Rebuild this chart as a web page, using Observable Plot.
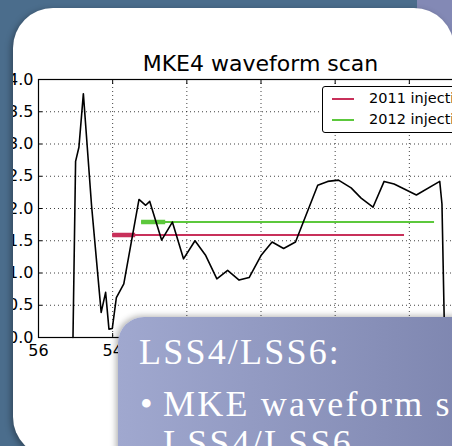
<!DOCTYPE html>
<html><head><meta charset="utf-8">
<script src="https://cdn.jsdelivr.net/npm/d3@7"></script>
<script src="https://cdn.jsdelivr.net/npm/@observablehq/plot@0.6"></script>
<style>
html,body{margin:0;padding:0;width:452px;height:446px;overflow:hidden;background:#4b6d8c;position:relative;}
#purple{position:absolute;left:417px;top:0;width:60px;height:80px;background:#8389b5;}
#panel{position:absolute;left:13px;top:8px;width:441px;height:449px;background:#fff;border-radius:40px;overflow:hidden;box-shadow:-2px 2px 6px rgba(0,0,0,.35);}
#content{position:absolute;left:-13px;top:-8px;width:520px;height:470px;}
#chart{position:absolute;left:0;top:0;}
#title{position:absolute;left:0;width:521px;top:53px;text-align:center;font:22px/22px "DejaVu Sans";color:#000;}
#legend{position:absolute;left:322px;top:86px;width:200px;height:45px;border:1px solid #000;border-radius:3px;background:#fff;font:14.5px/15px "DejaVu Sans";color:#000;}
.row{position:absolute;left:0;height:16px;}
.sw{position:absolute;left:9px;width:22px;height:2px;}
.lt{position:absolute;left:46px;top:0;white-space:nowrap;}
#box{position:absolute;left:118px;top:317px;width:400px;height:200px;border-radius:26px 0 0 0;background:linear-gradient(90deg,#a0a8cf,#7981ab);box-shadow:-2px -1px 6px rgba(0,0,0,.3);color:#fff;font-family:"Liberation Serif";font-size:36px;line-height:36px;letter-spacing:2.2px;}
.ln{position:absolute;white-space:nowrap;}
</style></head>
<body>
<div id="purple"></div>
<div id="panel"><div id="content">
  <div id="chart"></div>
  <div id="title"></div>
  <div id="legend"></div>
</div></div>
<div id="box"></div>
<script>
const chartTitle = "MKE4 waveform scan";
const xTicks = [56, 54, 52, 50, 48, 46, 44];
const yTicks = [0, 0.5, 1.0, 1.5, 2.0, 2.5, 3.0, 3.5, 4.0];
const scanX = [55.07, 55.0, 54.91, 54.79, 54.57, 54.31, 54.19, 54.10, 54.01, 53.90, 53.70, 53.29, 53.11, 53.0, 52.68, 52.39, 52.09, 51.78, 51.49, 51.19, 50.90, 50.59, 50.32, 50.0, 49.70, 49.39, 49.07, 48.47, 48.20, 47.91, 47.57, 47.30, 46.98, 46.68, 46.41, 45.81, 45.18, 45.12, 45.05];
const scanY = [0, 2.73, 2.95, 3.78, 2.05, 0.39, 0.70, 0.13, 0.14, 0.62, 0.83, 2.14, 2.05, 2.11, 1.51, 1.79, 1.22, 1.50, 1.27, 0.91, 1.04, 0.89, 0.93, 1.27, 1.48, 1.38, 1.48, 2.36, 2.42, 2.44, 2.32, 2.16, 2.02, 2.42, 2.38, 2.21, 2.42, 2.07, 0];
const injLabels = ["2011 injection", "2012 injection"];
const injLevel = [1.59, 1.79];
const injStart = [54.0, 53.22];
const injEnd = [46.13, 45.32];
const injThickEnd = [53.38, 52.57];
const injColors = ["#c8305a", "#5cc83c"];
const boxLines = ["LSS4/LSS6:", "MKE waveform scan", "LSS4/LSS6"];

const scan = scanX.map((x, i) => ({x, y: scanY[i]}));
const inj = injLabels.map((label, i) => ({label, y: injLevel[i], x1: injStart[i], x2: injEnd[i], xt: injThickEnd[i], color: injColors[i]}));

const grid = {stroke: "#000", strokeOpacity: 0.75, strokeDasharray: "1,3", strokeWidth: 1};
const plot = Plot.plot({
  width: 500, height: 360,
  marginLeft: 38, marginRight: 17, marginTop: 79, marginBottom: 23,
  style: {fontFamily: "DejaVu Sans", fontSize: "16px", color: "#000", background: "transparent"},
  x: {domain: [56, 44]},
  y: {domain: [0, 4]},
  marks: [
    Plot.gridX(xTicks, grid),
    Plot.gridY(yTicks, grid),
    Plot.ruleY(inj, {y: "y", x1: "x1", x2: "x2", stroke: "color", strokeWidth: 2}),
    Plot.ruleY(inj, {y: "y", x1: "x1", x2: "xt", stroke: "color", strokeWidth: 4.5}),
    Plot.line(scan, {x: "x", y: "y", stroke: "#000", strokeWidth: 1.6}),
    Plot.frame({stroke: "#000", strokeWidth: 1.2}),
    Plot.axisX(xTicks, {anchor: "bottom", tickSize: -4, tickPadding: 11, tickFormat: d => String(d), fontSize: 16}),
    Plot.axisX(xTicks, {anchor: "top", tickSize: -4, tickFormat: () => ""}),
    Plot.axisY(yTicks, {anchor: "left", tickSize: -4, tickPadding: 9, tickFormat: d3.format(".1f"), fontSize: 16}),
    Plot.axisY(yTicks, {anchor: "right", tickSize: -4, tickFormat: () => ""})
  ]
});
document.getElementById("chart").appendChild(plot);
document.getElementById("title").textContent = chartTitle;

const leg = document.getElementById("legend");
inj.forEach((d, i) => {
  const row = document.createElement("div");
  row.className = "row";
  row.style.top = (4 + i * 21) + "px";
  const sw = document.createElement("div");
  sw.className = "sw"; sw.style.background = d.color; sw.style.top = "7px";
  const t = document.createElement("div");
  t.className = "lt"; t.textContent = d.label;
  row.appendChild(sw); row.appendChild(t);
  leg.appendChild(row);
});

const box = document.getElementById("box");
const pos = [{l: 21, t: 17}, {l: 45, t: 69}, {l: 45, t: 108}];
boxLines.forEach((s, i) => {
  const el = document.createElement("div");
  el.className = "ln";
  el.style.left = pos[i].l + "px"; el.style.top = pos[i].t + "px";
  el.textContent = s;
  box.appendChild(el);
  if (i === 1) {
    const b = document.createElement("div");
    b.className = "ln"; b.style.left = "22px"; b.style.top = pos[i].t + "px";
    b.textContent = "\u2022";
    box.appendChild(b);
  }
});
</script>
</body></html>
